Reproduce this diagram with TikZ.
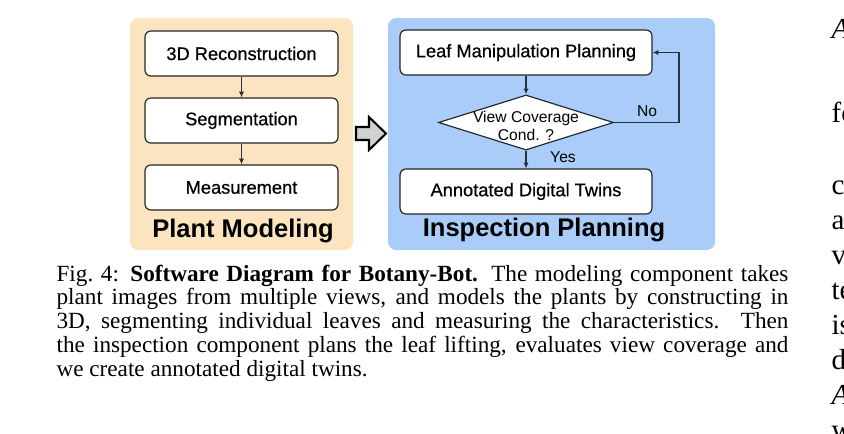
\documentclass[tikz,border=0pt]{standalone}
\usepackage{fontspec}
\setmainfont{Liberation Serif}
\setsansfont{Liberation Sans}
\newfontfamily\medsans[FakeBold=0.6]{Liberation Sans}
\usetikzlibrary{arrows.meta,shapes.geometric}
\definecolor{modelpeach}{HTML}{FBE4BF}
\definecolor{inspblue}{HTML}{A9CDF8}
\definecolor{lineink}{HTML}{27323F}

\begin{document}
\begin{tikzpicture}[x=0.345pt,y=-0.345pt,
 stage/.style={draw=black!85,fill=white,rounded corners=2pt,line width=0.4pt,
   minimum height=15.5pt,inner sep=0pt,font=\medsans\fontsize{6.3}{7.5}\selectfont},
 decide/.style={diamond,draw=black!85,fill=white,line width=0.4pt,inner sep=0pt,
   minimum width=60.4pt,minimum height=19pt},
 flow/.style={-{Latex[length=2pt,width=1.8pt]},lineink,line width=0.4pt},
 small/.style={font=\sffamily\fontsize{5.4}{6.2}\selectfont,inner sep=0pt},
 ttl/.style={anchor=base,inner sep=0pt,font=\sffamily\bfseries\fontsize{8.8}{10}\selectfont},
 body/.style={anchor=base west,inner sep=0pt,font=\fontsize{10}{12}\selectfont}]
\useasboundingbox (0,0) rectangle (844,433);
\clip (0,0) rectangle (844,433);
% Panels
\fill[modelpeach,rounded corners=2.8pt] (130,18) rectangle (353,250);
\fill[inspblue,rounded corners=2.8pt] (388,18) rectangle (715,250);
% Plant modeling
\foreach \nm/\y/\txt in {recon/53.5/3D Reconstruction,seg/120.5/Segmentation,meas/187.5/Measurement}
  \node[stage,minimum width=66.6pt] (\nm) at (241.5,\y) {\txt};
\draw[flow] (recon) -- (seg);
\draw[flow] (seg) -- (meas);
\node[ttl] (plantttl) at (243,237) {Plant Modeling};
% Hand-over arrow
\draw[fill=black!18,line width=0.7pt,line join=miter]
  (356,127) -- (369,127) -- (369,117) -- (386,133.5) -- (369,150) -- (369,140) -- (356,140) -- cycle;
% Inspection planning
\node[stage,minimum width=86.9pt] (leaf) at (526,52.5) {Leaf Manipulation Planning};
\node[decide] (cover) at (526,122.5) {};
\node[small,align=center] (covertxt) at (526,126) {View Coverage\\Cond. ?};
\node[stage,minimum width=86.9pt] (twins) at (526,191.5) {Annotated Digital Twins};
\coordinate (loopc) at (679,122.5);
\draw[flow] (leaf) -- (cover);
\draw[flow] (cover) -- (twins);
\draw[flow] (cover.east) -- (loopc) |- (leaf.east);
\node[small] (nolbl) at (647,111) {No};
\node[small] (yeslbl) at (563,157) {Yes};
\node[ttl] (inspttl) at (544,236) {Inspection Planning};
% Caption
\node[anchor=base west,text width=252.5pt,align=justify,inner sep=0pt,
  font=\fontsize{8}{8.2}\selectfont] (capt) at (56,281)
  {Fig.~4: \textbf{Software Diagram for Botany-Bot.} The modeling component takes\linebreak
   plant images from multiple views, and models the plants by constructing in\linebreak
   3D, segmenting individual leaves and measuring the characteristics. Then\linebreak
   the inspection component plans the leaf lifting, evaluates view coverage and\linebreak
   we create annotated digital twins.};
% Next column, cut at the page edge
\foreach \nm/\y/\txt in {ca/38/{\itshape A},cb/122/fo,cc/194/c,cd/229/a,ce/264/v,
                         cf/299/te,cg/334/is,ch/369/d,ci/404/{\itshape A},cj/439/w}
  \node[body] (\nm) at (831,\y) {\txt};
\end{tikzpicture}
\end{document}
